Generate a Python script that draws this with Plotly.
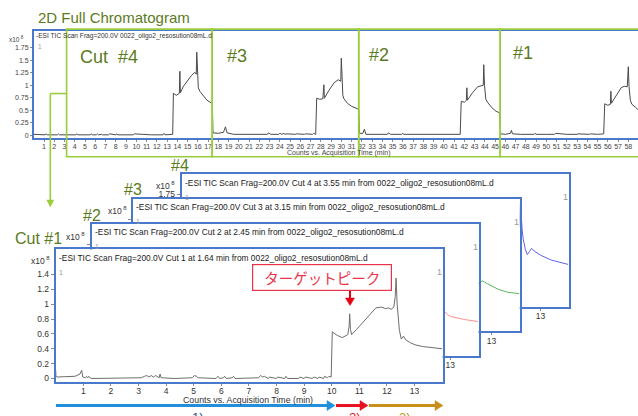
import plotly.graph_objects as go

W, H = 638, 416


def px(x):
    return x / W


def py(y):
    return 1 - y / H


# ---------------- data ----------------
# full 2D chromatogram (first-dimension time axis, min) and TIC counts (x10^8)
top_time = [
    0.0, 0.5, 1.1, 1.2, 1.3, 2.3, 2.4, 2.5, 3.0, 4.1, 4.2, 4.3, 5.5, 5.6, 5.7, 6.1, 6.2, 6.3,
    6.6, 6.7, 7.3, 7.4, 8.0, 8.1, 8.2, 9.0, 9.1, 9.7, 9.8, 10.5, 10.6, 11.5, 12.6, 12.7, 12.8, 13.55,
    13.62, 13.9, 14.2, 14.25, 14.3, 14.6, 15.0, 15.4, 15.7, 15.85, 15.9, 15.95, 16.05, 16.2, 16.5, 16.9, 17.3, 17.42,
    17.48, 18.0, 18.5, 18.7, 18.85, 19.5, 21.0, 22.8, 22.9, 23.1, 23.9, 24.0, 24.2, 24.4, 24.5, 24.7, 25.5, 25.6,
    26.4, 26.5, 27.2, 27.3, 27.5,
    27.6, 27.9, 28.2, 28.3, 28.35, 28.8, 29.3, 29.7, 29.95, 30.0, 30.05, 30.15, 30.25, 30.6, 31.0, 31.6, 31.7,
    31.78, 32.1, 32.25, 32.4, 33.0, 34.5, 34.6, 34.8, 35.9, 36.0, 36.1, 37.0, 38.5, 39.3, 40.0, 40.9, 41.0, 41.6,
    41.7, 42.0, 42.2, 42.25, 42.3, 42.8, 43.3, 43.7, 43.85, 43.9, 43.97, 44.1, 44.3, 44.7, 45.1, 45.45,
    45.55, 46.0, 46.5, 46.6, 46.7, 47.5, 48.8, 48.9, 49.0, 50.0, 50.8, 50.9, 52.0, 53.0, 53.1, 54.2, 54.3, 55.0, 55.6,
    55.7, 56.0, 56.25, 56.3, 56.35, 56.8, 57.3, 57.6, 57.9, 58.0, 58.07, 58.2, 58.35, 58.7, 59.0,
]
top_counts = [
    0.02, 0.01, 0.01, 0.03, 0.01, 0.01, 0.03, 0.01, 0.01, 0.01, 0.03, 0.01, 0.01, 0.03, 0.01, 0.01, 0.03, 0.01,
    0.02, 0.01, 0.01, 0.03, 0.01, 0.03, 0.01, 0.01, 0.02, 0.01, 0.03, 0.01, 0.02, 0.01, 0.01, 0.04, 0.01, 0.02,
    0.84, 0.80, 0.84, 1.28, 0.85, 0.98, 1.10, 1.20, 1.26, 1.22, 1.66, 1.30, 0.95, 0.88, 0.80, 0.70, 0.65, 0.63,
    0.05, 0.04, 0.06, 0.17, 0.05, 0.02, 0.02, 0.02, 0.05, 0.02, 0.02, 0.04, 0.02, 0.04, 0.02, 0.03, 0.02, 0.03,
    0.02, 0.03, 0.02, 0.04, 0.02,
    0.74, 0.72, 0.73, 1.01, 0.74, 0.90, 1.05, 1.11, 1.08, 1.54, 1.10, 0.80, 0.73, 0.64, 0.58, 0.53, 0.52,
    0.04, 0.04, 0.12, 0.02, 0.02, 0.02, 0.05, 0.02, 0.02, 0.04, 0.02, 0.02, 0.02, 0.03, 0.02, 0.02, 0.03, 0.02,
    0.68, 0.66, 0.70, 0.95, 0.70, 0.85, 0.97, 0.99, 1.00, 1.41, 1.00, 0.72, 0.65, 0.55, 0.48, 0.45,
    0.03, 0.02, 0.04, 0.10, 0.03, 0.02, 0.02, 0.04, 0.02, 0.02, 0.02, 0.04, 0.02, 0.02, 0.03, 0.02, 0.03, 0.02, 0.03,
    0.63, 0.60, 0.62, 0.88, 0.64, 0.80, 0.95, 0.98, 0.97, 1.37, 0.98, 0.70, 0.62, 0.56, 0.50,
]
top_ticks = list(range(1, 60))
top_yticks = [0, 0.25, 0.5, 0.75, 1, 1.25, 1.5, 1.75]
top_yticktext = ["0", "0.25", "0.5", "0.75", "1", "1.25", "1.5", "1.75"]

# heart-cut second-dimension runs (min, counts x10^8)
cut1_time = [
    0.00, 0.01, 0.05, 0.40, 0.70, 0.88, 0.94, 0.98, 1.08, 1.12, 1.16, 1.20, 1.24, 1.30, 2.00, 2.60,
    3.10, 3.22, 3.30, 3.38, 3.46, 3.54, 3.62, 3.75, 3.78, 3.82, 4.30, 4.95, 5.02, 5.10, 5.16, 5.80,
    5.88, 5.94, 6.08, 6.12, 6.18, 6.40, 6.44, 6.50, 7.35, 7.42, 7.50, 7.56, 7.70, 7.74, 8.00, 8.04,
    8.30, 8.34, 8.40, 8.80, 8.84, 9.00, 9.04, 9.30, 9.34, 9.50, 9.54, 9.70, 9.74, 9.85, 9.90, 9.98,
    10.02, 10.08, 10.20, 10.38, 10.58, 10.63, 10.65, 10.68, 10.72, 10.90, 11.05, 11.25, 11.45, 11.60,
    11.80, 11.95, 12.05, 12.15, 12.25, 12.30, 12.33, 12.37, 12.45, 12.52, 12.60, 12.68, 12.85, 13.05,
    13.30, 13.60, 14.00,
]
cut1_counts = [
    0.11, 0.03, 0.02, 0.02, 0.03, 0.06, 0.11, 0.02, 0.01, 0.03, 0.01, 0.03, 0.01, 0.00, 0.00, 0.00,
    0.01, 0.03, 0.04, 0.02, 0.04, 0.02, 0.04, 0.01, 0.06, 0.01, 0.00, 0.01, 0.04, 0.03, 0.01, 0.00,
    0.03, 0.00, 0.01, 0.03, 0.00, 0.01, 0.03, 0.00, 0.01, 0.04, 0.02, 0.03, 0.00, 0.02, 0.00, 0.02,
    0.00, 0.03, 0.00, 0.00, 0.02, 0.00, 0.02, 0.00, 0.02, 0.00, 0.02, 0.00, 0.03, 0.01, 0.03, 0.02,
    0.63, 0.61, 0.58, 0.55, 0.59, 0.70, 0.87, 0.66, 0.59, 0.66, 0.72, 0.80, 0.89, 0.95,
    0.96, 0.94, 0.95, 0.93, 0.96, 1.10, 1.35, 1.00, 0.65, 0.53, 0.57, 0.52, 0.48, 0.45,
    0.43, 0.42, 0.40,
]
cut2_time = [0.0, 0.9, 0.95, 1.0, 3.0, 6.0, 9.9, 10.0, 10.3, 10.5, 10.55, 10.6, 11.0, 11.6, 12.0,
             12.25, 12.3, 12.4, 12.55, 12.73, 12.9, 13.03, 13.3, 13.55, 14.0]
cut2_counts = [0.10, 0.08, 0.12, 0.02, 0.02, 0.02, 0.02, 0.68, 0.66, 0.70, 0.95, 0.70, 0.85, 0.98, 1.00,
               1.00, 1.41, 0.95, 0.80, 0.68, 0.60, 0.57, 0.54, 0.52, 0.49]
cut3_time = [0.0, 0.9, 0.95, 1.0, 3.0, 6.0, 10.0, 10.1, 10.4, 10.55, 10.6, 10.65, 11.2, 11.8, 12.0,
             12.25, 12.3, 12.42, 12.5, 12.55, 12.66, 12.85, 13.0, 13.24, 13.6, 14.0]
cut3_counts = [0.10, 0.08, 0.14, 0.02, 0.02, 0.02, 0.02, 0.74, 0.72, 0.73, 1.01, 0.74, 0.92, 1.08, 1.11,
               1.08, 1.54, 0.90, 0.72, 0.70, 0.75, 0.70, 0.66, 0.61, 0.56, 0.54]
cut4_time = [0.0, 0.9, 0.95, 1.0, 3.0, 6.0, 10.2, 10.3, 10.6, 10.85, 10.9, 10.95, 11.3, 11.7, 12.0,
             12.22, 12.27, 12.33, 12.37, 12.45, 12.52, 12.6, 12.67, 12.8, 13.0, 13.39, 13.7, 14.0]
cut4_counts = [0.10, 0.08, 0.14, 0.02, 0.02, 0.02, 0.02, 0.84, 0.80, 0.84, 1.28, 0.85, 1.05, 1.20, 1.25,
               1.22, 1.63, 1.19, 1.03, 0.85, 0.77, 0.82, 0.87, 0.82, 0.76, 0.68, 0.64, 0.61]

cut_numbers = [4, 3, 2, 1]
cut_start_min = {1: 1.64, 2: 2.45, 3: 3.15, 4: 3.55}
cut_names = {1: "Cut #1", 2: "#2", 3: "#3", 4: "#4"}
cut_series = {1: (cut1_time, cut1_counts), 2: (cut2_time, cut2_counts),
              3: (cut3_time, cut3_counts), 4: (cut4_time, cut4_counts)}
cut_colors = {1: "#6e6e6e", 2: "#ff8c8c", 3: "#5cb85c", 4: "#6060ee"}
panel_xticks = list(range(1, 14))
back_xticks = [13]
cut1_yticks = [0, 0.2, 0.4, 0.6, 0.8, 1, 1.2, 1.4]
cut1_yticktext = ["0", "0.2", "0.4", "0.6", "0.8", "1", "1.2", "1.4"]
cut4_yticks = [1.75]
cut4_yticktext = ["1.75"]

# cut windows on the first-dimension axis (min)
window_edges = [3.2, 17.4, 31.7, 45.5, 59.7]
window_labels = ["Cut  #4", "#3", "#2", "#1"]

# ---------------- styling ----------------
FONT = "Liberation Sans, Arial, sans-serif"
JP_FONT = "Noto Sans CJK JP, sans-serif"
BLUE = "#4a78cc"
OLIVE = "#5b7b22"
LIME = "#9acd3c"
RED = "#e8334a"
TICK = "#8a8a8a"

# top axis scale (pixels)
TOP_X0, TOP_PPM = 33.8, 10.25
TOP_TOP, TOP_BOT = 31, 139

# stacked panel geometry: top-left corner in pixels, size
PANEL_W, PANEL_H = 387, 133
panel_origin = {1: (55.7, 250.7), 2: (91.5, 225.0), 3: (132.7, 200.0), 4: (181.7, 175.0)}
panel_axes = {4: 2, 3: 3, 2: 4, 1: 5}

fig = go.Figure()

fig.add_trace(go.Scatter(x=top_time, y=top_counts, mode="lines", xaxis="x", yaxis="y",
                         line=dict(color="#4a4a4a", width=1), hoverinfo="skip", showlegend=False))

layout_axes = {}
layout_axes["xaxis"] = dict(
    domain=[px(TOP_X0), 1], range=[0, (W - TOP_X0) / TOP_PPM], anchor="y",
    tickmode="array", tickvals=top_ticks, ticktext=[str(t) for t in top_ticks], tickangle=0,
    ticks="outside", ticklen=2, tickcolor=TICK, tickfont=dict(size=7, color="#444", family=FONT),
    ticklabelstandoff=-1,
    showline=True, linecolor=BLUE, linewidth=1.5, mirror=True, showgrid=False, zeroline=False,
)
layout_axes["yaxis"] = dict(
    domain=[py(TOP_BOT), py(TOP_TOP)], range=[-0.06, 2.087], anchor="x",
    tickmode="array", tickvals=top_yticks, ticktext=top_yticktext,
    ticks="outside", ticklen=2, tickcolor=TICK, tickfont=dict(size=7, color="#444", family=FONT),
    showline=True, linecolor=BLUE, linewidth=1.5, showgrid=False, zeroline=False,
)

for n in cut_numbers:
    k = panel_axes[n]
    left, top = panel_origin[n]
    t, c = cut_series[n]
    fig.add_trace(go.Scatter(x=t, y=c, mode="lines", xaxis=f"x{k}", yaxis=f"y{k}",
                             line=dict(color=cut_colors[n], width=1), hoverinfo="skip",
                             showlegend=False))
    if n == 1:
        yr, yv, yt, show_y = [-0.045, 1.735], cut1_yticks, cut1_yticktext, True
        xv = panel_xticks
    elif n == 4:
        yr, yv, yt, show_y = [-0.076, 2.08], cut4_yticks, cut4_yticktext, True
        xv = back_xticks
    else:
        yr, yv, yt, show_y = [-0.076, 2.08], cut4_yticks, cut4_yticktext, False
        xv = back_xticks
    layout_axes[f"xaxis{k}"] = dict(
        domain=[px(left), px(left + PANEL_W)], range=[0, 14.02], anchor=f"y{k}",
        tickmode="array", tickvals=xv, ticktext=[str(v) for v in xv],
        tickangle=0, ticks="outside", ticklen=2, tickcolor=TICK,
        tickfont=dict(size=8.5, color="#333", family=FONT), ticklabelstandoff=-2,
        showline=True, linecolor=BLUE, linewidth=2, mirror=True, showgrid=False, zeroline=False,
    )
    layout_axes[f"yaxis{k}"] = dict(
        domain=[py(top + PANEL_H), py(top)], range=yr, anchor=f"x{k}",
        tickmode="array", tickvals=yv, ticktext=yt, showticklabels=show_y,
        ticks="outside", ticklen=3, tickcolor=TICK,
        tickfont=dict(size=8.5, color="#333", family=FONT),
        showline=True, linecolor=BLUE, linewidth=2, mirror=True, showgrid=False, zeroline=False,
    )

annotations = []


def note(x, y, text, size, color, xanchor="left", yanchor="middle", family=FONT, **kw):
    annotations.append(dict(xref="paper", yref="paper", x=px(x), y=py(y), text=text,
                            showarrow=False, xanchor=xanchor, yanchor=yanchor,
                            font=dict(size=size, color=color, family=family), **kw))


# top chromatogram texts
note(36, 18, "2D Full Chromatogram", 15, OLIVE)
note(34, 36.5, "-ESI TIC Scan Frag=200.0V 0022_oligo2_resosution08mL.d", 6.6, "#333")
note(7, 39, "x10<sup> 8</sup>", 6.5, "#444")
note(36, 47, "1", 6.5, "#999")
note(338, 153.5, "Counts vs. Acquisition Time (min)", 7, "#444", xanchor="center")

label_pos = [(78, 57, 18), (225, 56, 18), (367, 55, 18), (511, 53, 18)]
for lab, (x, y, s) in zip(window_labels, label_pos):
    note(x, y, lab, s, OLIVE)

# stacked panel texts
panel_label_pos = {1: (13, 240), 2: (81, 217), 3: (122, 190), 4: (169, 166)}
xten_pos = {1: (29, 262), 2: (64, 238), 3: (106, 211.5), 4: (154, 186.5)}
for n in cut_numbers:
    left, top = panel_origin[n]
    note(*panel_label_pos[n], cut_names[n], 16, OLIVE)
    note(*xten_pos[n], "x10<sup> 8</sup>", 8.5, "#333")
    note(left + 1, top + 8.5,
         f"-ESI TIC Scan Frag=200.0V Cut {n} at {cut_start_min[n]:.2f} min from 0022_oligo2_resosution08mL.d",
         8.4, "#222")
    note(left + 1, top + 23, "1", 7, "#999")
    note(left + PANEL_W - 8, top + 23, "1", 9, "#9a9a9a")

note(248, 402, "Counts vs. Acquisition Time (min)", 8.8, "#333", xanchor="center")

# target peak call-out
annotations.append(dict(xref="paper", yref="paper", x=px(322), y=py(279), text="ターゲットピーク",
                        showarrow=False, xanchor="center", yanchor="middle",
                        font=dict(size=14.5, color=RED, family=JP_FONT),
                        bordercolor=RED, borderwidth=1.2, borderpad=2, bgcolor="white",
                        width=134, height=21))

# region labels below the time arrows (partly below the page edge)
note(190, 409.5, "1)", 13, "#1f4e8c", yanchor="top")
note(347, 409.5, "2)", 13, "#e8101e", yanchor="top")
note(397, 409.5, "3)", 13, "#c8901a", yanchor="top")

shapes = []


def seg(x0, y0, x1, y1, color, width):
    shapes.append(dict(type="line", xref="paper", yref="paper", x0=px(x0), y0=py(y0),
                       x1=px(x1), y1=py(y1), line=dict(color=color, width=width), layer="above"))


def tri(points, color):
    path = "M " + " L ".join(f"{px(x):.5f},{py(y):.5f}" for x, y in points) + " Z"
    shapes.append(dict(type="path", xref="paper", yref="paper", path=path,
                       fillcolor=color, line=dict(color=color, width=0.5), layer="above"))


# cut windows on the full chromatogram
win_px = [TOP_X0 + e * TOP_PPM for e in window_edges]
for a, b in zip(win_px[:-1], win_px[1:]):
    shapes.append(dict(type="rect", xref="paper", yref="paper", x0=px(a), x1=px(b),
                       y0=py(157.5), y1=py(29.3), line=dict(color=LIME, width=1.6),
                       fillcolor="rgba(0,0,0,0)", layer="above"))
seg(50.3, 94, win_px[0], 94, LIME, 1.6)
seg(50.3, 94, 50.3, 203, LIME, 1.6)
tri([(46.8, 201), (53.8, 201), (50.3, 208)], LIME)

# target peak arrow
seg(350, 292, 350, 301, "#e60012", 2)
tri([(345.5, 299.5), (354.5, 299.5), (350, 307)], "#e60012")

# time region arrows under the front panel
for x0, x1, color in [(56, 328, "#2090dc"), (336, 361, "#e8101e"), (369, 436, "#c8901a")]:
    seg(x0, 407.5, x1, 407.5, color, 3)
    tri([(x1 - 1, 402.5), (x1 - 1, 412.5), (x1 + 7, 407.5)], color)

fig.update_layout(
    width=W, height=H, margin=dict(l=0, r=0, t=0, b=0),
    paper_bgcolor="white", plot_bgcolor="white", showlegend=False,
    font=dict(family=FONT), annotations=annotations, shapes=shapes, **layout_axes,
)

fig.write_html("out.html")
